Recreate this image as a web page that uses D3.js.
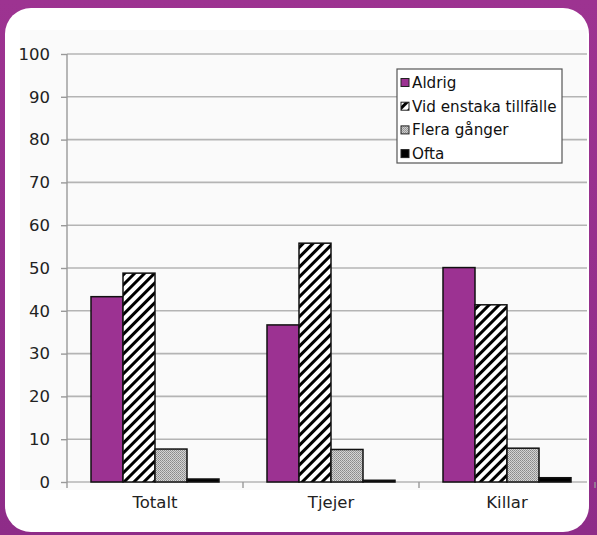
<!DOCTYPE html>
<html>
<head>
<meta charset="utf-8">
<script src="https://cdn.jsdelivr.net/npm/d3@7"></script>
<style>
  html, body { margin: 0; padding: 0; background: #952f8d; }
  svg { display: block; }
  .tick text { font-family: "DejaVu Sans", Verdana, sans-serif; fill: #222; }
</style>
</head>
<body>
<div id="chart"></div>
<script>
const categories = ["Totalt", "Tjejer", "Killar"];
const seriesNames = ["Aldrig", "Vid enstaka tillfälle", "Flera gånger", "Ofta"];
const aldrig = [43.3, 36.7, 50.1];
const vidEnstaka = [48.8, 55.8, 41.4];
const fleraGanger = [7.7, 7.6, 7.9];
const ofta = [0.7, 0.4, 1.0];
const yTicks = [0, 10, 20, 30, 40, 50, 60, 70, 80, 90, 100];

const W = 597, H = 535;
const plot = {left: 67, right: 595, top: 54, bottom: 482};

const svg = d3.select("#chart").append("svg")
    .attr("width", W)
    .attr("height", H);

const defs = svg.append("defs");

const grad = defs.append("linearGradient")
    .attr("id", "frame").attr("x1", 0).attr("y1", 0).attr("x2", 0).attr("y2", 1);
grad.append("stop").attr("offset", "0%").attr("stop-color", "#9d3391");
grad.append("stop").attr("offset", "100%").attr("stop-color", "#8e2c88");

// diagonal hatch for "Vid enstaka tillfälle"
const hatch = defs.append("pattern")
    .attr("id", "hatch")
    .attr("patternUnits", "userSpaceOnUse")
    .attr("width", 7).attr("height", 7)
    .attr("patternTransform", "rotate(45)");
hatch.append("rect").attr("width", 7).attr("height", 7).attr("fill", "#fff");
hatch.append("rect").attr("x", 0).attr("width", 3).attr("height", 7).attr("fill", "#000");

// fine dotted grey for "Flera gånger"
const dots = defs.append("pattern")
    .attr("id", "dots")
    .attr("patternUnits", "userSpaceOnUse")
    .attr("width", 2).attr("height", 2);
dots.append("rect").attr("width", 2).attr("height", 2).attr("fill", "#d4d4d4");
dots.append("rect").attr("width", 1).attr("height", 1).attr("fill", "#8a8a8a");
dots.append("rect").attr("x", 1).attr("y", 1).attr("width", 1).attr("height", 1).attr("fill", "#9a9a9a");

const fills = ["#9c3292", "url(#hatch)", "url(#dots)", "#000"];

// purple frame and white card
svg.append("rect").attr("width", W).attr("height", H).attr("fill", "url(#frame)");
svg.append("rect")
    .attr("x", 5).attr("y", 8)
    .attr("width", 584).attr("height", 524)
    .attr("rx", 26).attr("ry", 26)
    .attr("fill", "#fff");
svg.append("rect")
    .attr("x", 20).attr("y", 30)
    .attr("width", 567).attr("height", 460)
    .attr("fill", "#fafafa");

const x = d3.scaleBand()
    .domain(categories)
    .range([plot.left, plot.right]);

const xs = d3.scaleBand()
    .domain(seriesNames)
    .range([0, x.bandwidth()])
    .paddingOuter(0.75)
    .paddingInner(0);

const y = d3.scaleLinear()
    .domain([0, 100])
    .range([plot.bottom, plot.top]);

// grid lines
svg.append("g")
  .selectAll("line")
  .data(yTicks)
  .join("line")
    .attr("x1", plot.left)
    .attr("x2", 587)
    .attr("y1", (d) => y(d))
    .attr("y2", (d) => y(d))
    .attr("stroke", "#b4b4b4")
    .attr("stroke-width", 1.6);

// y axis
const yAxis = svg.append("g")
    .attr("transform", "translate(" + plot.left + ",0)")
    .call(d3.axisLeft(y).tickValues(yTicks).tickSize(6).tickPadding(11));
yAxis.selectAll("text").style("font-size", "16.5px");
yAxis.selectAll("line").attr("stroke", "#999").attr("stroke-width", 1.4);
yAxis.select(".domain").attr("stroke", "#999").attr("stroke-width", 1.4)
    .attr("d", "M0," + plot.top + "V" + (plot.bottom + 6));

// bars
const series = [aldrig, vidEnstaka, fleraGanger, ofta];
const bars = [];
categories.forEach((c, ci) => {
  series.forEach((s, si) => {
    bars.push({cat: c, name: seriesNames[si], idx: si, value: s[ci]});
  });
});

svg.append("g")
  .selectAll("rect")
  .data(bars)
  .join("rect")
    .attr("x", (d) => x(d.cat) + xs(d.name))
    .attr("y", (d) => y(d.value))
    .attr("width", xs.bandwidth())
    .attr("height", (d) => y(0) - y(d.value))
    .attr("fill", (d) => fills[d.idx])
    .attr("stroke", "#111")
    .attr("stroke-width", 1.5);

// x axis
const xAxis = svg.append("g")
    .attr("transform", "translate(0," + plot.bottom + ")")
    .call(d3.axisBottom(x).tickSize(0).tickPadding(14));
xAxis.select(".domain").remove();
xAxis.selectAll("text").style("font-size", "16.5px");
svg.append("g")
  .selectAll("line")
  .data(categories)
  .join("line")
    .attr("x1", (d) => x(d) + x.bandwidth())
    .attr("x2", (d) => x(d) + x.bandwidth())
    .attr("y1", plot.bottom)
    .attr("y2", plot.bottom + 6)
    .attr("stroke", "#999")
    .attr("stroke-width", 1.4);

// legend
const legend = svg.append("g").attr("transform", "translate(397,69)");
legend.append("rect")
    .attr("width", 165).attr("height", 94)
    .attr("fill", "#fff")
    .attr("stroke", "#555")
    .attr("stroke-width", 1.2);
const item = legend.selectAll(".item")
  .data(seriesNames)
  .join("g")
    .attr("class", "item")
    .attr("transform", (d, i) => "translate(4," + (13.5 + i * 23.7) + ")");
item.append("rect")
    .attr("x", 0).attr("y", -4)
    .attr("width", 8).attr("height", 8)
    .attr("fill", (d, i) => fills[i])
    .attr("stroke", "#222")
    .attr("stroke-width", 1);
item.append("text")
    .attr("x", 11)
    .attr("y", 5.5)
    .style("font-family", "'DejaVu Sans', Verdana, sans-serif")
    .style("font-size", "15.2px")
    .attr("fill", "#111")
    .text((d) => d);
</script>
</body>
</html>
